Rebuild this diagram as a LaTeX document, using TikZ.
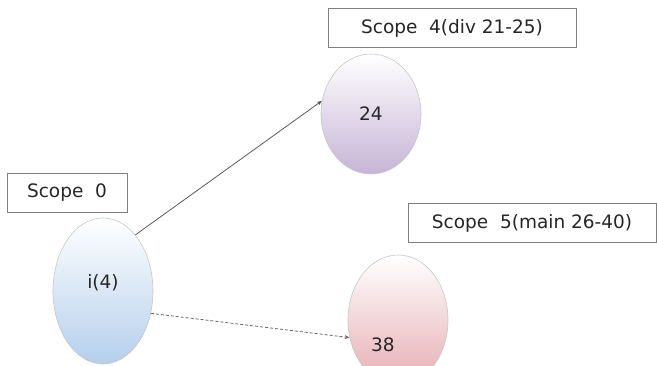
\documentclass[tikz,border=0pt]{standalone}
\usepackage{fontspec}
\setmainfont{DejaVu Sans}
\usepackage{xcolor}
\usetikzlibrary{shapes.geometric, arrows.meta, positioning}
\definecolor{vblue}{HTML}{B4CFEC}
\definecolor{vlila}{HTML}{C6B4D6}
\definecolor{vpink}{HTML}{E6ADB2}
\tikzset{
  %% Scope caption box
  scopebox/.style={
    rectangle, draw=black!50, fill=white,
    minimum height=39pt, line width=0.8pt,
    font=\fontsize{18.5}{21}\selectfont, text=black!85
  },
  %% Variable ellipse, shaded top to bottom
  varnode/.style={
    ellipse, draw=black!22, line width=0.6pt,
    top color=white, bottom color=#1,
    minimum width=100pt, inner sep=0pt,
    font=\fontsize{18.5}{21}\selectfont, text=black!85
  },
  varnode/.default=vblue,
  %% Arrows
  arr/.style={-{Stealth[length=5pt,width=4pt]},
              draw=black!65, line width=0.8pt},
  darr/.style={arr, densely dashed, draw=black!60},
}
\begin{document}
\begin{tikzpicture}[x=1pt, y=-1pt]
  \useasboundingbox (0,0) rectangle (657,366);

  \node[varnode=vblue, minimum height=146pt] (v4) at (103,291) {};
  \node[font=\fontsize{18.5}{21}\selectfont, text=black!85] (t4)
       at (103,283) {i(4)};
  \node[varnode=vlila, minimum height=120pt] (v24) at (371,114) {24};
  \node[varnode=vpink, minimum height=130pt] (v38) at (398,320) {};
  \node[font=\fontsize{18.5}{21}\selectfont, text=black!85] (t38)
       at (383,345) {38};

  \node[scopebox, minimum width=120pt] (s0) at (67,192.5) {Scope~ 0};
  \node[scopebox, minimum width=248pt] (s4) at (452,28) {Scope~ 4(div 21-25)};
  \node[scopebox, minimum width=248pt] (s5) at (532,223) {Scope~ 5(main 26-40)};

  %% Arrows
  \draw[arr]  (v4.60)  -- (v24.165);
  \draw[darr] (v4.-25) -- (v38.200);

\end{tikzpicture}
\end{document}
